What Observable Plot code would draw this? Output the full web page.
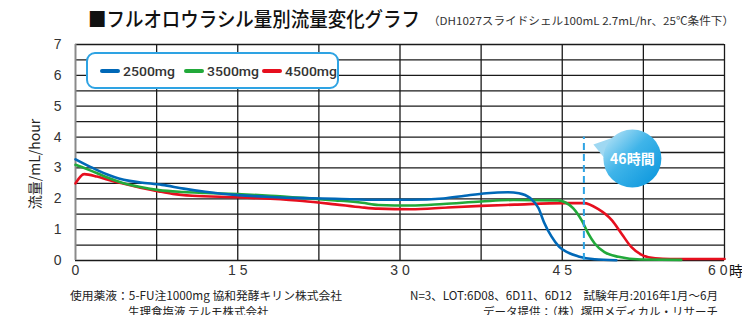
<!DOCTYPE html>
<html><head><meta charset="utf-8">
<script src="https://cdn.jsdelivr.net/npm/d3@7"></script>
<script src="https://cdn.jsdelivr.net/npm/@observablehq/plot@0.6"></script>
<style>
html,body{margin:0;padding:0;background:#fff;}
#chart{position:relative;width:742px;height:315px;overflow:hidden;}
</style></head><body><div id="chart"></div>
<script>
// ---- data ----
const seriesNames = ["2500mg", "3500mg", "4500mg"];
const seriesColors = ["#0068b7", "#22a93a", "#e60f1e"];

const hours2500 = [0, 1, 2, 3, 4, 5, 6, 8, 10, 12, 15, 18, 21, 24, 28, 31, 34, 36, 38, 40, 41, 42, 42.8, 43.3, 44, 44.7, 45.5, 46.5, 48, 50];
const flow2500  = [3.28, 3.1, 2.93, 2.78, 2.66, 2.58, 2.53, 2.45, 2.33, 2.23, 2.12, 2.06, 2.02, 2.0, 1.97, 1.97, 2.01, 2.1, 2.18, 2.21, 2.18, 2.03, 1.7, 1.25, 0.78, 0.45, 0.26, 0.13, 0.04, 0.01];

const hours3500 = [0, 1, 2, 3, 4.3, 6, 7.7, 10, 12, 15, 18, 21, 24, 26.5, 28, 31, 34, 37.5, 40.5, 44.6, 45.3, 46, 46.8, 47.4, 48, 48.9, 50.2, 52.3, 56];
const flow3500  = [3.1, 2.97, 2.83, 2.68, 2.52, 2.38, 2.28, 2.22, 2.19, 2.15, 2.1, 2.03, 1.95, 1.87, 1.8, 1.78, 1.83, 1.91, 1.96, 1.95, 1.88, 1.7, 1.3, 0.88, 0.55, 0.27, 0.12, 0.03, 0.02];

const hours4500 = [0, 0.8, 2, 3, 4.3, 6, 7.7, 9, 10.8, 15, 18, 21, 24, 26.5, 28, 31, 34.4, 37.5, 40.6, 45.2, 47, 48.3, 49.6, 50.5, 51.4, 52.3, 53.6, 55, 60];
const flow4500  = [2.5, 2.8, 2.72, 2.62, 2.5, 2.36, 2.24, 2.16, 2.1, 2.05, 2.0, 1.93, 1.82, 1.72, 1.68, 1.66, 1.72, 1.77, 1.81, 1.86, 1.86, 1.67, 1.3, 0.86, 0.43, 0.19, 0.07, 0.05, 0.05];

const xTicks = [0, 15, 30, 45, 60];
const yTicks = [0, 1, 2, 3, 4, 5, 6, 7];
const xGrid = [0, 7.5, 15, 22.5, 30, 37.5, 45, 52.5, 60];
const yGrid = [0, 0.5, 1, 1.5, 2, 2.5, 3, 3.5, 4, 4.5, 5, 5.5, 6, 6.5, 7];

const markerHour = 47;      // dashed marker
const markerTop = 4.0;
const markerLabel = "46時間";

const titleText = "■フルオロウラシル量別流量変化グラフ";
const subtitleText = "（DH1027スライドシェル100mL 2.7mL/hr、25℃条件下）";
const yLabel = "流量/mL/hour";
const xUnit = "時間";
const note1 = "使用薬液：5-FU注1000mg 協和発酵キリン株式会社";
const note2 = "生理食塩液 テルモ株式会社";
const note3 = "N=3、LOT:6D08、6D11、6D12　試験年月:2016年1月～6月";
const note4 = "データ提供：（株）塚田メディカル・リサーチ";

// ---- build table ----
const allHours = [hours2500, hours3500, hours4500];
const allFlows = [flow2500, flow3500, flow4500];
const table = [];
[2, 1, 0].forEach(i => {
  allHours[i].forEach((h, j) => table.push({series: seriesNames[i], hour: h, flow: allFlows[i][j]}));
});

const jp = "'Noto Sans CJK JP', 'Noto Sans', sans-serif";
const num = "'Liberation Sans', Arial, sans-serif";
const fmtX = d => String(d).split("").join(" ");
const lastTick = xTicks[xTicks.length - 1];

const plot = Plot.plot({
  width: 742, height: 315,
  marginTop: 44, marginBottom: 55, marginLeft: 75, marginRight: 18,
  style: {fontFamily: num, background: "#fff", overflow: "visible"},
  x: {domain: [0, 60], label: null},
  y: {domain: [0, 7], label: null},
  color: {domain: seriesNames, range: seriesColors},
  marks: [
    Plot.ruleY(yGrid, {stroke: "#1a1a1a", strokeWidth: 1.3}),
    Plot.ruleX(xGrid.slice(1), {stroke: "#1a1a1a", strokeWidth: 1.3}),
    Plot.ruleX([0], {stroke: "#8a8a8a", strokeWidth: 2}),
    Plot.line(table, {x: "hour", y: "flow", z: "series", stroke: "series",
      strokeWidth: 2.6, curve: "monotone-x", strokeLinejoin: "round", strokeLinecap: "round"}),
    Plot.ruleX([markerHour], {y1: 0, y2: markerTop, stroke: "#2ea3e3", strokeWidth: 2, strokeDasharray: "7,4"}),
    Plot.axisX({ticks: xTicks.slice(0, -1), tickSize: 0, tickPadding: 5, fontSize: 14, fill: "#333", tickFormat: fmtX, label: null}),
    Plot.axisX({ticks: [lastTick], tickSize: 0, tickPadding: 5, fontSize: 14, fill: "#333", tickFormat: fmtX, label: null, textAnchor: "end", dx: 3}),
    Plot.axisY({ticks: yTicks, tickSize: 0, tickPadding: 14, fontSize: 14, fill: "#333", tickFormat: d => String(d), label: null})
  ]
});

const xs = plot.scale("x"), ys = plot.scale("y");
const X = v => xs.apply(v), Y = v => ys.apply(v);
const svg = d3.select(plot);

// gradient
const defs = svg.append("defs");
const g = defs.append("linearGradient").attr("id", "bub").attr("x1", 0).attr("y1", 0).attr("x2", 1).attr("y2", 1);
g.append("stop").attr("offset", "0").attr("stop-color", "#c8eaf8");
g.append("stop").attr("offset", "0.45").attr("stop-color", "#3fb4e9");
g.append("stop").attr("offset", "1").attr("stop-color", "#0493db");

const T = (x, y, s, size, opts = {}) => {
  const t = svg.append("text").attr("x", x).attr("y", y).text(s)
    .attr("font-family", opts.family || jp).attr("font-size", size).attr("fill", opts.fill || "#111")
    .attr("text-anchor", opts.anchor || "start");
  if (opts.weight) t.attr("font-weight", opts.weight);
  if (opts.len) t.attr("textLength", opts.len).attr("lengthAdjust", "spacingAndGlyphs");
  return t;
};

// legend
svg.append("rect").attr("x", 87).attr("y", 53).attr("width", 251).attr("height", 35).attr("rx", 8)
  .attr("fill", "#fff").attr("stroke", "#2ea3e3").attr("stroke-width", 2);
const legX = [102, 186, 264];
seriesNames.forEach((n, i) => {
  svg.append("line").attr("x1", legX[i]).attr("x2", legX[i] + 16).attr("y1", 71).attr("y2", 71)
    .attr("stroke", seriesColors[i]).attr("stroke-width", 4).attr("stroke-linecap", "round");
  T(legX[i] + 21, 76, n, 13.5, {family: "Roboto, 'Liberation Sans', sans-serif", weight: 500, fill: "#333", len: 52});
});

// bubble
const cx = X(markerHour) + 49, cy = Y(markerTop) + 22;
svg.append("path").attr("d", `M${cx-39},${cy-14} L${cx-19},${cy-21} L${cx-26},${cy+2} Z`).attr("fill", "#9fd8f2");
svg.append("circle").attr("cx", cx).attr("cy", cy).attr("r", 29).attr("fill", "url(#bub)");
T(cx, cy + 5, markerLabel, 14, {anchor: "middle", weight: "bold", fill: "#fff"});

// texts
T(88, 27, titleText, 20, {weight: 500, len: 332});
T(428, 25, subtitleText, 11, {fill: "#333", len: 306});
T(X(60) + 5, 276, xUnit, 14, {fill: "#111"});
T(0, 0, yLabel, 14, {anchor: "middle", fill: "#222"}).attr("transform", "translate(40,164) rotate(-90)");
T(70, 300, note1, 11.5, {fill: "#222", len: 272});
T(128, 315.5, note2, 11.5, {fill: "#222"});
T(410, 300, note3, 11.5, {fill: "#222", len: 308});
T(718, 315.5, note4, 11.5, {fill: "#222", anchor: "end"});

document.getElementById("chart").appendChild(plot);
</script></body></html>
